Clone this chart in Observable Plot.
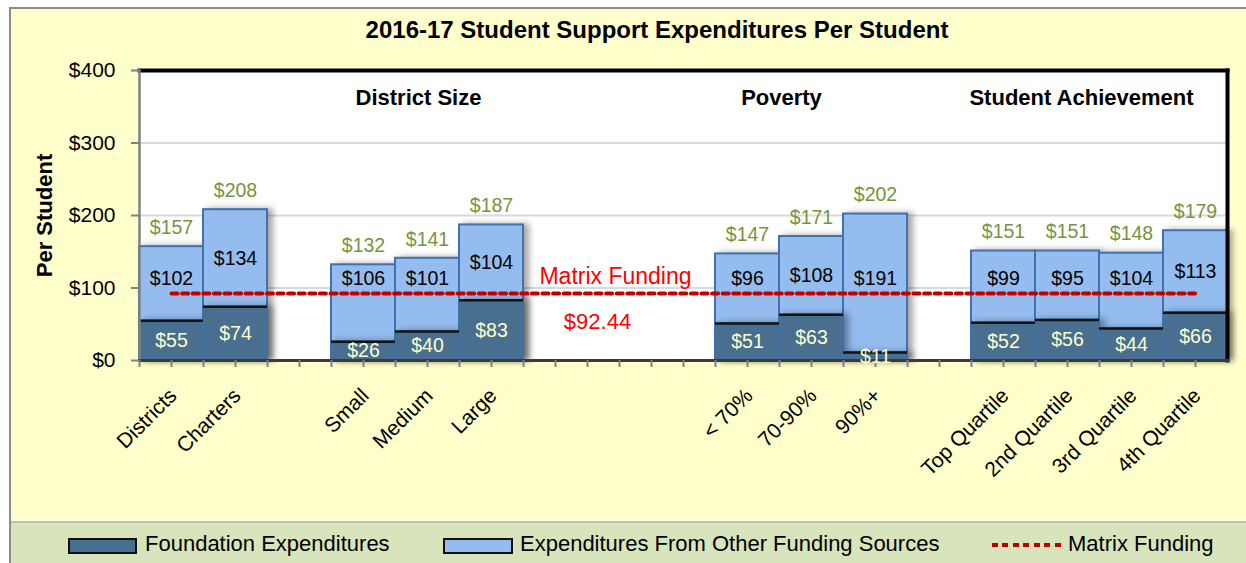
<!DOCTYPE html>
<html>
<head>
<meta charset="utf-8">
<script src="https://cdn.jsdelivr.net/npm/d3@7"></script>
<script src="https://cdn.jsdelivr.net/npm/@observablehq/plot@0.6"></script>
<style>
  body { margin: 0; background: #fff; font-family: 'Liberation Sans', Arial, sans-serif; }
  #page { position: relative; width: 1246px; height: 563px; overflow: hidden; }
  #bg { position: absolute; left: 9px; top: 7px; right: -5px; bottom: -5px; background: #FFFFCC; border-left: 2px solid #8C8C8C; border-top: 2px solid #8C8C8C; }
  #title { position: absolute; left: 657px; top: 16px; transform: translateX(-50%); white-space: nowrap; font-weight: bold; font-size: 24px; line-height: 28px; color: #000; }
  #chart { position: absolute; left: 0; top: 40px; }
  #legend { position: absolute; left: 11px; right: 0; top: 521px; bottom: 0; background: #D8E4BC; border-top: 2px solid #BFBFBF; }
  .sw { position: absolute; top: 15px; height: 12px; border: 2px solid #111; }
  .lt { position: absolute; top: 8px; font-size: 22px; line-height: 26px; color: #000; white-space: nowrap; }
  .dots { position: absolute; top: 20px; height: 4px; background: repeating-linear-gradient(90deg, #C00000 0 6px, transparent 6px 10.5px); }
  g[aria-label="bar"] { filter: drop-shadow(5px 0px 3px rgba(0,0,0,0.35)); }
</style>
</head>
<body>
<div id="page">
  <div id="bg"></div>
  <div id="title">2016-17 Student Support Expenditures Per Student</div>
  <div id="chart"></div>
  <div id="legend">
    <div class="sw" style="left:57px;width:65px;background:#466E8F"></div>
    <div class="lt" style="left:134px">Foundation Expenditures</div>
    <div class="sw" style="left:432px;width:66px;background:#95BCEE"></div>
    <div class="lt" style="left:509px">Expenditures From Other Funding Sources</div>
    <div class="dots" style="left:981px;width:70px"></div>
    <div class="lt" style="left:1057px">Matrix Funding</div>
  </div>
</div>
<script>
// ---- data ----
const slots = ["Districts", "Charters", "gap1", "Small", "Medium", "Large", "gap2", "gap3", "gap4",
  "< 70%", "70-90%", "90%+", "gap5", "Top Quartile", "2nd Quartile", "3rd Quartile", "4th Quartile"];
const categories = ["Districts", "Charters", "Small", "Medium", "Large", "< 70%", "70-90%", "90%+",
  "Top Quartile", "2nd Quartile", "3rd Quartile", "4th Quartile"];
const foundation = [55, 74, 26, 40, 83, 51, 63, 11, 52, 56, 44, 66];
const otherSources = [102, 134, 106, 101, 104, 96, 108, 191, 99, 95, 104, 113];
const totals = [157, 208, 132, 141, 187, 147, 171, 202, 151, 151, 148, 179];
const matrixFunding = 92.44;
const yTicks = [0, 100, 200, 300, 400];
const gridValues = [100, 200, 300];

const rows = categories.map((c, i) => ({
  category: c, foundation: foundation[i], other: otherSources[i], total: totals[i]
}));
const money = v => "$" + v;
// "other" labels sit at the segment middle, kept clear above the matrix line
const otherLabelY = d => Math.max((d.foundation + d.total) / 2, matrixFunding + 20);

const chart = Plot.plot({
  width: 1246,
  height: 482,
  marginLeft: 139,
  marginRight: 19,
  marginTop: 30,
  marginBottom: 162,
  style: { background: "transparent", overflow: "visible", fontFamily: "'Liberation Sans', Arial, sans-serif", fontSize: "20px" },
  x: { domain: slots, padding: 0, axis: null },
  y: { domain: [0, 400], axis: null },
  marks: [
    Plot.frame({ fill: "white", stroke: null }),
    Plot.ruleY(gridValues, { stroke: "#D9D9D9", strokeWidth: 2 }),
    // bars
    Plot.barY(rows, { x: "category", y1: 0, y2: "total", fill: "#95BCEE", stroke: "#3F72AF", strokeWidth: 2 }),
    Plot.barY(rows, { x: "category", y1: 0, y2: "foundation", fill: "#486F90", stroke: "#3F72AF", strokeWidth: 1.5 }),
    Plot.tickY(rows, { x: "category", y: "foundation", stroke: "#111", strokeWidth: 2.5 }),
    // frame edges
    Plot.frame({ anchor: "top", stroke: "#000", strokeWidth: 4 }),
    Plot.frame({ anchor: "right", stroke: "#000", strokeWidth: 4 }),
    Plot.frame({ anchor: "left", stroke: "#808080", strokeWidth: 2.5 }),
    Plot.frame({ anchor: "bottom", stroke: "#3a3a3a", strokeWidth: 3 }),
    // axes
    Plot.axisY(yTicks, { tickSize: 8, tickPadding: 16, tickFormat: money, stroke: "#808080", strokeWidth: 2, fill: "#000", fontSize: 21, label: null }),
    Plot.axisX(slots, { tickSize: 7, tickFormat: () => "", stroke: "#808080", strokeWidth: 2, label: null }),
    Plot.axisX(slots, { tickSize: 7, tickFormat: () => "", stroke: "#808080", strokeWidth: 2, dx: -32, label: null }),
    Plot.text(categories, { x: d => d, frameAnchor: "bottom", rotate: -45, textAnchor: "end", lineAnchor: "top", dx: -4, dy: 26, fontSize: 21, fill: "#000" }),
    Plot.text(["Per Student"], { frameAnchor: "left", dx: -95, rotate: -90, textAnchor: "middle", lineAnchor: "middle", fontSize: 22, fontWeight: "bold", fill: "#000" }),
    // matrix funding
    Plot.lineY([{ c: "Districts" }, { c: "4th Quartile" }], { x: "c", y: () => matrixFunding, stroke: "#C00000", strokeWidth: 4, strokeDasharray: "6,4.6" }),
    Plot.text(["Matrix Funding"], { x: () => "gap3", y: () => matrixFunding, dx: -4, dy: -17, fill: "#FF0000", fontSize: 23 }),
    Plot.text([matrixFunding], { x: () => "gap3", y: d => d, text: d => "$" + d.toFixed(2), dx: -22, dy: 28, fill: "#FF0000", fontSize: 22 }),
    // value labels
    Plot.text(rows, { x: "category", y: "total", text: d => money(d.total), dy: -19, fill: "#77933C", fontSize: 19.5 }),
    Plot.text(rows, { x: "category", y: otherLabelY, text: d => money(d.other), fill: "#000", fontSize: 19.5 }),
    Plot.text(rows, { x: "category", y: d => d.foundation / 2, text: d => money(d.foundation), fill: "#FFFFCC", fontSize: 19.5 }),
    // group titles
    Plot.text(["District Size"], { x: () => "Medium", frameAnchor: "top", lineAnchor: "middle", dy: 27, dx: -9, fontSize: 22, fontWeight: "bold", fill: "#000" }),
    Plot.text(["Poverty"], { x: () => "< 70%", frameAnchor: "top", lineAnchor: "middle", dy: 27, dx: 34, fontSize: 22, fontWeight: "bold", fill: "#000" }),
    Plot.text(["Student Achievement"], { x: () => "2nd Quartile", frameAnchor: "top", lineAnchor: "middle", dy: 27, dx: 14, fontSize: 22, fontWeight: "bold", fill: "#000" })
  ]
});
document.getElementById("chart").appendChild(chart);
</script>
</body>
</html>
